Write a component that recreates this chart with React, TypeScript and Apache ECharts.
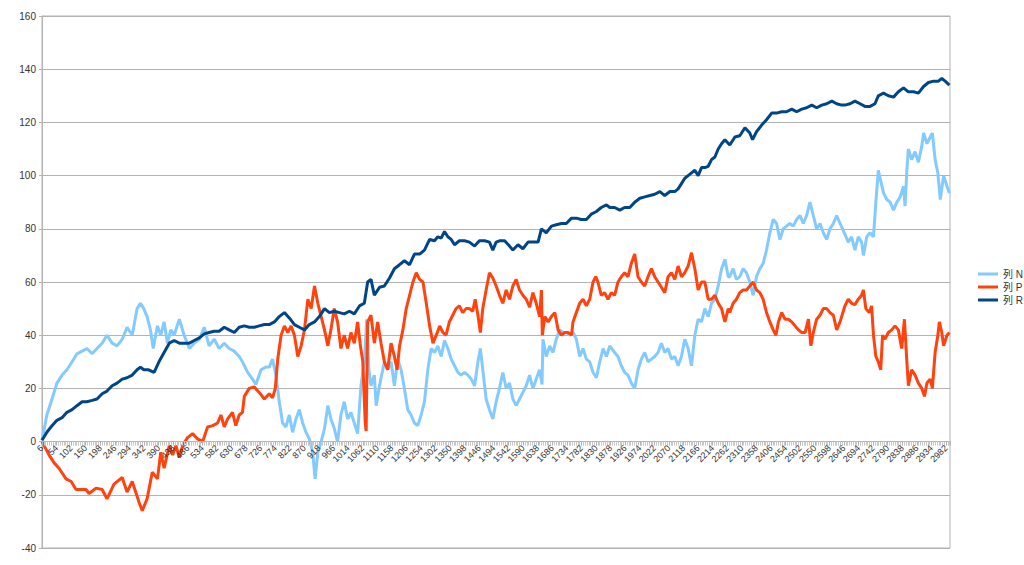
import React, { useEffect, useRef } from "react";
import * as echarts from "echarts";

const seriesNames = ["列 N", "列 P", "列 R"];
const colors = ["#83caff", "#ff420e", "#004586"];
const yTicks = { min: -40, max: 160, step: 20 };
const xRange = { min: 6, max: 2995, step: 48 };

const dataN: [number, number][] = [
  [6, 0.5], [22, 10], [39, 16], [55, 22], [72, 25], [88, 27], [105, 30], [121, 33], [138, 34], [154, 35],
  [171, 33], [187, 35], [204, 37], [220, 40], [237, 37], [253, 36], [270, 38.5], [286, 43], [303, 40], [319, 50],
  [330, 52], [341, 50], [352, 47], [363, 42], [372, 35], [386, 43.5], [397, 40], [408, 45], [419, 37], [430, 42],
  [441, 40], [458, 46], [474, 40], [491, 35], [507, 37], [524, 38.5], [540, 43], [556, 36], [573, 38.5], [589, 35],
  [606, 37], [622, 35], [639, 34], [655, 32], [666, 30], [683, 26], [699, 23.5], [710, 21.5], [727, 27], [743, 28],
  [754, 28], [765, 31], [776, 25], [787, 15], [798, 7], [809, 5.5], [820, 10], [831, 3.5], [842, 8.5], [853, 12],
  [864, 7], [875, 3.5], [886, 1], [897, -4], [905, -14], [914, -4], [925, 0], [936, 5], [947, 13.5], [957, 8.5],
  [968, 5], [979, 0], [990, 10], [1001, 15], [1012, 8.5], [1023, 11], [1034, 7], [1045, 3], [1056, 21], [1067, 30],
  [1075, 46], [1082, 27], [1089, 21], [1100, 25], [1106, 13.5], [1117, 21], [1133, 30], [1144, 27], [1155, 30], [1166, 21],
  [1177, 31], [1188, 27], [1199, 20], [1210, 12], [1221, 10], [1232, 7], [1243, 6], [1254, 10], [1265, 15], [1276, 27],
  [1287, 35], [1298, 33.5], [1309, 36], [1320, 32], [1331, 38], [1342, 35], [1353, 31], [1364, 28.5], [1375, 26], [1386, 25],
  [1397, 26], [1408, 25], [1419, 23.5], [1430, 21], [1441, 30], [1449, 35], [1457, 27], [1468, 16], [1479, 12], [1490, 8.5],
  [1501, 15], [1512, 20], [1523, 26], [1534, 20], [1545, 22], [1556, 16], [1567, 13.5], [1578, 16], [1589, 18.5], [1600, 21],
  [1611, 25], [1622, 20], [1633, 23.5], [1644, 27], [1652, 21.5], [1655, 38.5], [1666, 32], [1677, 36], [1688, 33.5], [1699, 38.5],
  [1710, 42], [1721, 41], [1732, 41], [1743, 40], [1754, 41], [1765, 38.5], [1776, 32], [1787, 35], [1798, 31], [1809, 30],
  [1820, 26], [1831, 24], [1842, 30], [1853, 35], [1864, 32], [1875, 36], [1891, 33.5], [1902, 32], [1913, 28.5], [1924, 26],
  [1935, 25], [1946, 22], [1957, 20], [1968, 27], [1979, 31], [1990, 33.5], [2001, 30], [2012, 31], [2023, 32], [2034, 33.5],
  [2045, 37], [2056, 33.5], [2067, 35], [2078, 31], [2089, 32], [2100, 28.5], [2111, 32], [2122, 38.5], [2133, 35], [2144, 28.5],
  [2155, 40], [2166, 46], [2177, 45], [2188, 50], [2199, 47], [2210, 52], [2221, 53.5], [2232, 58.5], [2243, 65], [2254, 68.5],
  [2265, 62], [2270, 62], [2281, 65], [2292, 61], [2303, 62], [2314, 65], [2325, 63.5], [2336, 60], [2347, 55], [2358, 62],
  [2369, 65], [2380, 67], [2391, 72], [2402, 78.5], [2413, 83.5], [2424, 82], [2435, 76], [2446, 80], [2457, 81], [2468, 82],
  [2479, 81], [2490, 83.5], [2501, 85], [2512, 82], [2523, 85], [2534, 90], [2545, 85], [2556, 80], [2567, 82], [2578, 78.5],
  [2589, 76], [2600, 80], [2611, 82], [2622, 85], [2633, 82], [2649, 78], [2660, 75], [2671, 77], [2682, 72], [2693, 77],
  [2704, 75], [2710, 70], [2721, 77], [2732, 78.5], [2743, 77], [2751, 90], [2759, 102], [2767, 98], [2776, 93.5], [2787, 91],
  [2798, 90], [2809, 87], [2820, 90], [2831, 92], [2842, 96], [2847, 88.5], [2853, 102], [2858, 110], [2869, 106], [2880, 109],
  [2891, 105], [2902, 111], [2908, 116], [2919, 112], [2930, 114.5], [2937, 116], [2946, 106], [2955, 101], [2963, 91], [2974, 100],
  [2985, 96], [2993, 93.5],
];

const dataP: [number, number][] = [
  [6, 0], [29, -5], [46, -8], [62, -10], [85, -14], [102, -15], [118, -18], [151, -18], [161, -19.5], [184, -17.5],
  [204, -18], [220, -21.5], [243, -16], [270, -13.5], [286, -19], [303, -15], [326, -23], [336, -26], [352, -21.5], [369, -11.5],
  [386, -14], [397, -4], [408, -10], [425, -1.5], [436, -5], [447, -1.5], [458, -6], [469, -1.5], [485, 1.5], [502, 3],
  [518, 1], [535, 0], [551, 5.5], [568, 6], [584, 7], [595, 10], [606, 5.5], [617, 8.5], [633, 11], [644, 6],
  [655, 10], [666, 11], [672, 17], [688, 20], [705, 20.5], [721, 18.5], [738, 16], [754, 18], [765, 16.5], [774, 20],
  [782, 31], [793, 40], [804, 43.5], [815, 41], [826, 43.5], [837, 40], [848, 32], [859, 36], [870, 42], [881, 53.5],
  [892, 50], [903, 58.5], [914, 52], [925, 47], [936, 42], [947, 36], [957, 42], [968, 50], [979, 45], [990, 35],
  [1001, 40], [1012, 35], [1023, 41], [1034, 37], [1045, 45], [1053, 37], [1062, 30], [1070, 7], [1073, 4], [1078, 45],
  [1089, 47.5], [1100, 37], [1111, 45], [1122, 37], [1133, 30], [1144, 27], [1155, 37], [1166, 32], [1175, 27], [1183, 36],
  [1194, 42], [1205, 50], [1216, 55], [1227, 60], [1238, 63.5], [1249, 61], [1260, 60], [1271, 52], [1282, 43.5], [1293, 37],
  [1304, 40], [1315, 43.5], [1326, 41], [1336, 40], [1347, 45], [1358, 47.5], [1369, 50], [1380, 51], [1391, 48.5], [1402, 50],
  [1413, 50], [1424, 49], [1432, 53.5], [1441, 47.5], [1449, 41], [1457, 50], [1468, 57], [1479, 63.5], [1490, 61.5], [1501, 58.5],
  [1512, 55], [1523, 52], [1534, 57], [1545, 53.5], [1556, 58.5], [1567, 61], [1578, 57], [1589, 55], [1600, 53.5], [1611, 50.5],
  [1622, 56], [1633, 52], [1644, 47], [1650, 57], [1653, 40], [1661, 47], [1672, 45], [1683, 47], [1694, 48.5], [1705, 42],
  [1716, 40], [1727, 41], [1738, 41], [1749, 40], [1754, 45], [1765, 48.5], [1776, 52], [1787, 53.5], [1798, 51], [1809, 53.5],
  [1820, 60], [1829, 62], [1836, 60], [1847, 55], [1858, 56], [1869, 53.5], [1880, 56], [1891, 55], [1902, 60], [1913, 62],
  [1924, 63.5], [1935, 62], [1946, 67], [1957, 70.5], [1968, 62], [1979, 60], [1990, 58.5], [2001, 62], [2012, 65], [2023, 62],
  [2034, 60], [2045, 58], [2056, 56], [2067, 62], [2078, 63.5], [2089, 61], [2100, 66], [2111, 62], [2122, 63.5], [2133, 66],
  [2144, 71], [2155, 65], [2166, 57], [2177, 60], [2188, 60], [2199, 53.5], [2210, 53.5], [2221, 55], [2232, 52], [2243, 50],
  [2254, 45], [2265, 50], [2270, 48.5], [2281, 52], [2292, 53.5], [2303, 56], [2314, 57], [2325, 57], [2336, 58.5], [2347, 60],
  [2358, 57], [2369, 56], [2380, 53.5], [2391, 48.5], [2402, 45], [2413, 42], [2422, 40], [2430, 45], [2441, 48.5], [2452, 46],
  [2463, 46], [2474, 45], [2485, 43.5], [2496, 42], [2507, 41], [2518, 41], [2529, 46], [2537, 36], [2545, 41], [2556, 46],
  [2567, 47.5], [2578, 50], [2589, 50], [2600, 48.5], [2611, 47.5], [2622, 42], [2633, 45], [2649, 51], [2660, 53.5], [2671, 52],
  [2682, 51.5], [2693, 53.5], [2704, 55], [2710, 57], [2718, 50], [2729, 48.5], [2737, 51], [2743, 40], [2751, 32], [2759, 30],
  [2767, 27], [2773, 40], [2781, 38.5], [2792, 41], [2803, 42], [2814, 43.5], [2825, 42], [2836, 35], [2845, 46], [2853, 30],
  [2858, 21], [2869, 27], [2880, 25], [2891, 22], [2902, 20], [2911, 17], [2919, 22], [2930, 23.5], [2937, 20], [2946, 33.5],
  [2955, 40], [2960, 45], [2968, 41], [2974, 36], [2985, 40], [2993, 41],
];

const dataR: [number, number][] = [
  [6, 0.5], [22, 3.5], [39, 6], [55, 8], [72, 9], [88, 11], [105, 12], [121, 13.5], [138, 15], [154, 15],
  [171, 15.5], [187, 16], [204, 18], [220, 19], [237, 21], [253, 22], [270, 23.5], [286, 24], [303, 25], [319, 27],
  [330, 28], [341, 27], [357, 27], [375, 26], [391, 30], [408, 33.5], [425, 37], [441, 38], [458, 37], [474, 37],
  [491, 37], [507, 38], [524, 39], [540, 40.5], [556, 41], [573, 41.5], [589, 41.5], [606, 43], [622, 42], [639, 41],
  [655, 43], [672, 43.5], [688, 43], [705, 43], [721, 43.5], [738, 44], [754, 44], [771, 45], [787, 47], [804, 48.5],
  [820, 46.5], [837, 44], [853, 43], [870, 42], [886, 44], [903, 45], [919, 47], [936, 50], [952, 48.5], [968, 49],
  [985, 48.5], [1001, 48], [1018, 49], [1034, 48], [1051, 51], [1067, 52], [1078, 60], [1089, 61], [1100, 55], [1117, 58],
  [1133, 58.5], [1150, 61.5], [1166, 65], [1183, 66.5], [1199, 68], [1216, 66.5], [1232, 70.5], [1249, 70.5], [1265, 72], [1282, 76],
  [1298, 75.5], [1309, 77], [1320, 76.5], [1331, 79], [1342, 77], [1353, 76], [1364, 74], [1380, 75.5], [1397, 75.5], [1413, 75],
  [1430, 73.5], [1446, 75.5], [1463, 75.5], [1479, 75], [1490, 72], [1501, 75], [1512, 75.5], [1529, 75.5], [1545, 73.5], [1556, 72],
  [1573, 74], [1589, 72.5], [1606, 75], [1622, 75], [1639, 75], [1650, 80], [1666, 78.5], [1683, 81], [1699, 81.5], [1716, 82],
  [1732, 82], [1749, 84], [1765, 84], [1781, 83.5], [1798, 83.5], [1814, 85.5], [1831, 86.5], [1847, 88], [1864, 89], [1875, 88],
  [1891, 88], [1908, 87], [1924, 88], [1941, 88], [1957, 90], [1974, 91.5], [1990, 92], [2007, 92.5], [2023, 93], [2040, 94],
  [2056, 92.5], [2073, 94], [2089, 94], [2100, 95], [2111, 97], [2122, 99], [2133, 100], [2144, 101], [2155, 102], [2166, 100],
  [2177, 103], [2188, 103], [2199, 103.5], [2210, 106], [2221, 107], [2232, 110], [2243, 112], [2254, 113.5], [2270, 111.5], [2287, 114.5],
  [2303, 115], [2320, 118], [2336, 116], [2345, 113.5], [2358, 116.5], [2375, 119], [2391, 121], [2408, 123.5], [2424, 123.5], [2441, 124],
  [2457, 124], [2474, 125], [2490, 124], [2507, 125], [2523, 125.5], [2540, 126.5], [2556, 125.5], [2573, 126.5], [2589, 127], [2606, 128],
  [2622, 127], [2638, 126.5], [2649, 126.5], [2666, 127], [2682, 128], [2699, 127], [2715, 126], [2732, 126], [2748, 127], [2759, 130],
  [2776, 131], [2792, 130], [2809, 129.5], [2825, 131.5], [2842, 133], [2858, 131.5], [2875, 131.5], [2891, 131], [2908, 133.5], [2924, 135],
  [2941, 135.5], [2957, 135.5], [2968, 136.5], [2979, 135.5], [2993, 134],
];

const allData = [dataN, dataP, dataR];

const GRID_TOP = 16;
const GRID_BOTTOM = 17;
const CHART_H = 565;

export default function App() {
  const ref = useRef<HTMLDivElement>(null);
  useEffect(() => {
    if (!ref.current) return;
    const chart = echarts.init(ref.current, null, { renderer: "svg" });
    const font = "'Liberation Sans', 'DejaVu Sans', 'Noto Sans CJK JP', sans-serif";
    const plotH = CHART_H - GRID_TOP - GRID_BOTTOM;
    const zeroOffset = (plotH * (0 - yTicks.min)) / (yTicks.max - yTicks.min);
    chart.setOption({
      animation: false,
      backgroundColor: "#ffffff",
      textStyle: { fontFamily: font },
      grid: {
        left: 42,
        right: 74,
        top: GRID_TOP,
        bottom: GRID_BOTTOM,
        show: true,
        borderColor: "#b3b3b3",
        borderWidth: 1,
        containLabel: false,
        outerBoundsMode: "none",
      },
      legend: {
        orient: "vertical",
        left: 973,
        top: 263,
        itemWidth: 20,
        itemHeight: 3,
        itemGap: 1,
        icon: "rect",
        data: seriesNames,
        textStyle: { fontSize: 10, color: "#333333", lineHeight: 12, fontFamily: font },
      },
      xAxis: {
        type: "value",
        min: xRange.min,
        max: xRange.max,
        interval: xRange.step,
        position: "bottom",
        offset: -zeroOffset,
        z: 10,
        axisLine: { show: true, onZero: false, lineStyle: { color: "#b3b3b3" } },
        axisTick: { show: true, length: 4, lineStyle: { color: "#b3b3b3" } },
        minorTick: { show: true, splitNumber: 8, length: 4, lineStyle: { color: "#c8c8c8" } },
        splitLine: { show: false },
        axisLabel: {
          rotate: 45,
          fontSize: 9,
          color: "#333333",
          margin: 5,
          showMaxLabel: false,
          fontFamily: font,
          formatter: (v: number) => String(v),
        },
      },
      yAxis: {
        type: "value",
        min: yTicks.min,
        max: yTicks.max,
        interval: yTicks.step,
        axisLine: { show: true, lineStyle: { color: "#b3b3b3" } },
        axisTick: { show: true, length: 3, lineStyle: { color: "#b3b3b3" } },
        splitLine: { show: true, lineStyle: { color: "#b3b3b3", width: 1 } },
        axisLabel: { fontSize: 10, color: "#333333", margin: 6, fontFamily: font },
      },
      series: seriesNames.map((name, i) => ({
        name,
        type: "line",
        data: allData[i],
        showSymbol: false,
        symbol: "none",
        lineStyle: { color: colors[i], width: 3 },
        itemStyle: { color: colors[i] },
        emphasis: { disabled: true },
      })),
    });
    return () => chart.dispose();
  }, []);
  return (
    <div
      ref={ref}
      style={{ position: "fixed", left: 0, top: 0, width: 1024, height: CHART_H }}
    />
  );
}
